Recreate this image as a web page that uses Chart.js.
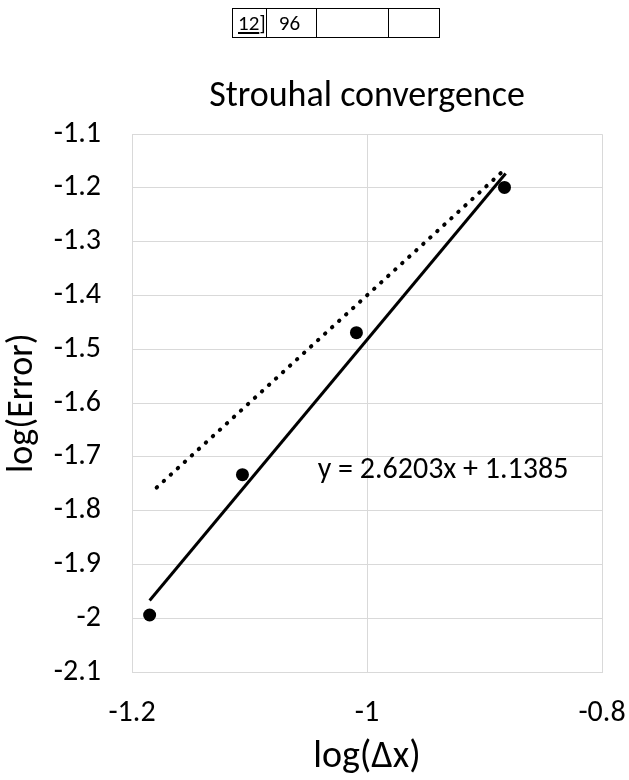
<!DOCTYPE html>
<html>
<head>
<meta charset="utf-8">
<script src="https://cdn.jsdelivr.net/npm/chart.js@4.4.0/dist/chart.umd.min.js"></script>
<style>
  html, body { margin: 0; padding: 0; background: #fff; }
  #wrap { position: relative; width: 629px; height: 780px; }
  #tbl { position: absolute; left: 232px; top: 8px; border-collapse: collapse; font-family: Carlito, Lato, sans-serif; font-size: 21px; z-index: 2; }
  #tbl td { box-sizing: border-box; border: 1px solid #000; height: 29px; padding: 0 0 0 8px; }
</style>
</head>
<body>
<div id="wrap">
  <table id="tbl"><tr>
    <td style="width:28px;padding-left:5px"><u>12</u>]</td><td style="width:50px;padding-left:12px">96</td><td style="width:72px"></td><td style="width:51px"></td>
  </tr></table>
  <canvas id="chart" width="629" height="780"></canvas>
</div>
<script>
// measured points: log(dx) vs log(error)
const logDx = [-1.185, -1.106, -1.009, -0.883];
const logErr = [-1.994, -1.733, -1.469, -1.199];

// linear trendline ends (as drawn)
const fitX = [-1.185, -0.882];
const fitY = [-1.967, -1.173];

// dotted reference line ends
const refX = [-1.179, -0.883];
const refY = [-1.757, -1.166];

const equation = 'y = 2.6203x + 1.1385';
const equationAt = [-1.042, -1.725];

const chartTitle = 'Strouhal convergence';
const xTitle = 'log(\u0394x)';
const yTitle = 'log(Error)';

const FONT = 'Carlito, Lato, sans-serif';
const GRID = '#d9d9d9';

const toPts = (xs, ys) => xs.map((x, i) => ({ x: x, y: ys[i] }));
const fmt = v => String(Number(v.toFixed(1)));

// writes the trendline equation next to the fit
const equationLabel = {
  id: 'equationLabel',
  afterDatasetsDraw(chart) {
    const ctx = chart.ctx;
    ctx.save();
    ctx.font = '30px ' + FONT;
    ctx.fillStyle = '#000';
    ctx.textAlign = 'left';
    ctx.textBaseline = 'middle';
    ctx.fillText(equation,
      chart.scales.x.getPixelForValue(equationAt[0]),
      chart.scales.y.getPixelForValue(equationAt[1]));
    ctx.restore();
  }
};

new Chart(document.getElementById('chart'), {
  type: 'scatter',
  data: {
    datasets: [
      {
        label: 'reference',
        data: toPts(refX, refY),
        showLine: true,
        borderColor: '#000',
        borderWidth: 4,
        borderDash: [0.5, 9],
        borderCapStyle: 'round',
        pointRadius: 0
      },
      {
        label: 'fit',
        data: toPts(fitX, fitY),
        showLine: true,
        borderColor: '#000',
        borderWidth: 3,
        pointRadius: 0
      },
      {
        label: 'error',
        data: toPts(logDx, logErr),
        backgroundColor: '#000',
        borderColor: '#000',
        pointRadius: 6.5,
        borderWidth: 0
      }
    ]
  },
  options: {
    responsive: false,
    animation: false,
    devicePixelRatio: 1,
    layout: { padding: { left: 0, right: 27, top: 0, bottom: 0 } },
    plugins: {
      legend: { display: false },
      tooltip: { enabled: false },
      title: {
        display: true,
        fullSize: false,
        text: chartTitle,
        color: '#000',
        font: { family: FONT, size: 36, weight: 'normal' },
        padding: { top: 75, bottom: 16 }
      }
    },
    scales: {
      x: {
        type: 'linear',
        min: -1.2,
        max: -0.8,
        afterFit: axis => { axis.height = 108; axis.paddingRight = 27; },
        ticks: { stepSize: 0.2, color: '#000', padding: 23, font: { family: FONT, size: 30 }, callback: fmt },
        grid: { color: GRID, drawTicks: false },
        border: { color: GRID },
        title: { display: true, text: xTitle, color: '#000', font: { family: FONT, size: 38 }, padding: { top: 0, bottom: 0 } }
      },
      y: {
        type: 'linear',
        min: -2.1,
        max: -1.1,
        afterFit: axis => { axis.width = 132; },
        ticks: { stepSize: 0.1, color: '#000', padding: 31, font: { family: FONT, size: 30 }, callback: fmt },
        grid: { color: GRID, drawTicks: false },
        border: { color: GRID },
        title: { display: true, text: yTitle, color: '#000', font: { family: FONT, size: 36 }, padding: { top: 1, bottom: 0 } }
      }
    }
  },
  plugins: [equationLabel]
});
</script>
</body>
</html>
